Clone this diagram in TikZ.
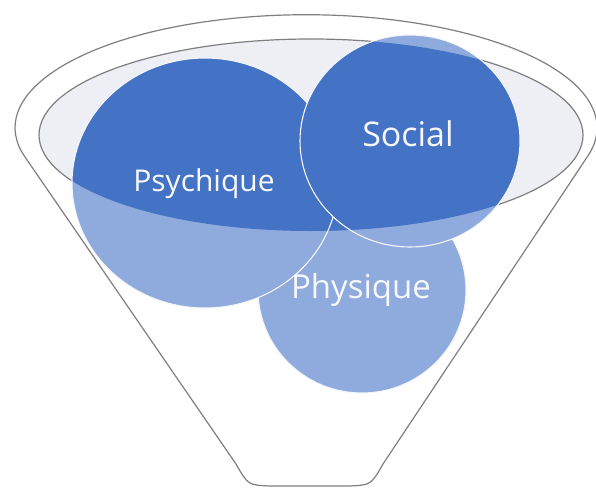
\documentclass[tikz,border=0pt]{standalone}
\usepackage{fontspec}
\newfontfamily\labelfont{Open Sans}
\usepackage{tikz}
\usetikzlibrary{positioning}

\definecolor{darkblue}{HTML}{4472C4}
\definecolor{lightblue}{HTML}{8FAADC}
\definecolor{rimgray}{HTML}{7F7F7F}
\definecolor{mouthfill}{HTML}{EDEFF5}

\begin{document}
\begin{tikzpicture}[
    x=1pt, y=1pt,
    funnel/.style={draw=rimgray, line width=1.2pt, fill=white},
    mouth/.style={draw=rimgray, line width=1.2pt, fill=mouthfill},
    lightdisk/.style={fill=lightblue},
    darkdisk/.style={fill=darkblue},
    diskedge/.style={draw=white!90!lightblue, line width=1.1pt},
    tag/.style={text=white!92!lightblue, inner sep=0pt, font=\labelfont}
]
\useasboundingbox (0,0) rectangle (596,488);

% funnel body and mouth
\draw[funnel] (25,331) arc[start angle=195, end angle=-15, x radius=291, y radius=113]
    -- (383,24) .. controls (371,3) .. (349,2) -- (270,2) .. controls (248,3) .. (236,24) -- cycle;
\draw[mouth] (311,353) ellipse [x radius=272, y radius=96];

% Physique
\fill[lightdisk] (362,198) ellipse [x radius=104, y radius=103];
\begin{scope}
  \clip (311,353) ellipse [x radius=272, y radius=96];
  \fill[darkdisk] (362,198) ellipse [x radius=104, y radius=103];
\end{scope}
\draw[diskedge] (362,198) ellipse [x radius=104, y radius=103];

% Psychique
\fill[lightdisk] (205,305) ellipse [x radius=133, y radius=125];
\begin{scope}
  \clip (311,353) ellipse [x radius=272, y radius=96];
  \fill[darkdisk] (205,305) ellipse [x radius=133, y radius=125];
\end{scope}
\draw[diskedge] (205,305) ellipse [x radius=133, y radius=125];

% Social
\fill[lightdisk] (410,347) ellipse [x radius=110, y radius=106];
\begin{scope}
  \clip (311,353) ellipse [x radius=272, y radius=96];
  \fill[darkdisk] (410,347) ellipse [x radius=110, y radius=106];
\end{scope}
\draw[diskedge] (410,347) ellipse [x radius=110, y radius=106];

% labels
\node[tag, font=\labelfont\fontsize{30}{36}\selectfont] (psychique) at (204,304) {Psychique};
\node[tag, font=\labelfont\fontsize{34}{40}\selectfont] (social) at (408,354) {Social};
\node[tag, font=\labelfont\fontsize{33}{40}\selectfont] (physique) at (361,198) {Physique};

\end{tikzpicture}
\end{document}
